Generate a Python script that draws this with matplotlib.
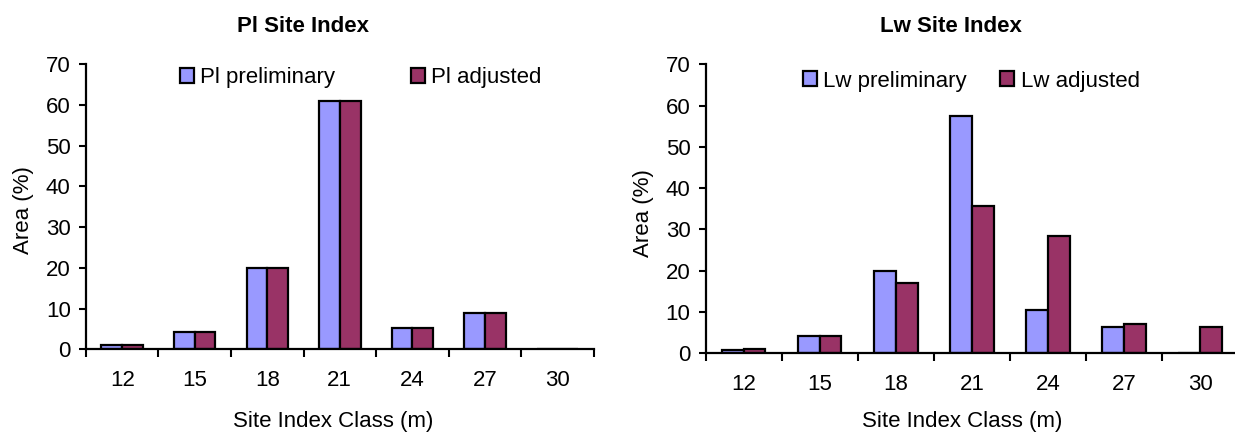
import numpy as np
import matplotlib
matplotlib.use("Agg")
import matplotlib.pyplot as plt
from matplotlib.patches import Patch

plt.rcParams['font.family'] = ['Liberation Sans', 'DejaVu Sans']

classes = ['12', '15', '18', '21', '24', '27', '30']

pl_preliminary = [1.0, 4.2, 20.0, 61.0, 5.2, 8.8, 0.0]
pl_adjusted = [1.0, 4.2, 20.0, 61.0, 5.2, 8.8, 0.0]

lw_preliminary = [0.7, 4.1, 20.0, 57.6, 10.6, 6.3, 0.0]
lw_adjusted = [1.0, 4.1, 17.0, 35.7, 28.3, 7.2, 6.3]

C_PRE = '#9999FF'
C_ADJ = '#993366'
FS = 16


def draw_panel(fig, rect, title, title_xy, names, pre, adj, legend_xy, colspace, ylabel_xy, xlabel_xy):
    ax = fig.add_axes(rect)
    x = np.arange(len(classes))
    w = 1 / 3.5
    ax.bar(x - w / 2, pre, w, color=C_PRE, edgecolor='black', linewidth=1.6, zorder=2)
    ax.bar(x + w / 2, adj, w, color=C_ADJ, edgecolor='black', linewidth=1.6, zorder=2)

    ax.set_xlim(-0.5, len(classes) - 0.5)
    ax.set_ylim(0, 70)
    ax.set_yticks(range(0, 71, 10))
    ax.set_xticks(np.arange(-0.5, len(classes)), labels=[])
    ax.set_xticks(x, labels=classes, minor=True)
    ax.tick_params(axis='x', which='major', direction='out', length=5.5, width=1.5)
    ax.tick_params(axis='x', which='minor', length=0, pad=15, labelsize=FS)
    ax.tick_params(axis='y', direction='out', length=5, width=1.5, pad=6, labelsize=FS)
    for s in ('top', 'right'):
        ax.spines[s].set_visible(False)
    for s in ('left', 'bottom'):
        ax.spines[s].set_linewidth(1.6)
        ax.spines[s].set_zorder(3)

    fig.text(title_xy[0] / 1235, 1 - title_xy[1] / 434, title, ha='center', va='center',
             fontsize=16, fontweight='bold')
    fig.text(ylabel_xy[0] / 1235, 1 - ylabel_xy[1] / 434, 'Area (%)', ha='center', va='center',
             rotation=90, fontsize=FS)
    fig.text(xlabel_xy[0] / 1235, 1 - xlabel_xy[1] / 434, 'Site Index Class (m)', ha='center',
             va='center', fontsize=FS)

    handles = [Patch(facecolor=C_PRE, edgecolor='black', linewidth=1.6),
               Patch(facecolor=C_ADJ, edgecolor='black', linewidth=1.6)]
    fig.legend(handles, names, loc='center left',
               bbox_to_anchor=(legend_xy[0] / 1235, 1 - legend_xy[1] / 434),
               ncol=2, frameon=False, fontsize=FS, handlelength=0.62, handleheight=0.62,
               handletextpad=0.3, columnspacing=colspace, borderaxespad=0, borderpad=0)
    return ax


fig = plt.figure(figsize=(12.35, 4.34), dpi=100)

draw_panel(fig, [0.0696, 0.1952, 0.4111, 0.6566], 'Pl Site Index', (303, 27),
           ['Pl preliminary', 'Pl adjusted'], pl_preliminary, pl_adjusted,
           (180, 78), 3.4, (23, 210), (333, 421))

draw_panel(fig, [0.5714, 0.1859, 0.4311, 0.6659], 'Lw Site Index', (951, 27),
           ['Lw preliminary', 'Lw adjusted'], lw_preliminary, lw_adjusted,
           (803, 81), 1.5, (643, 213), (962, 421))

fig.savefig('out.png', dpi=100)
